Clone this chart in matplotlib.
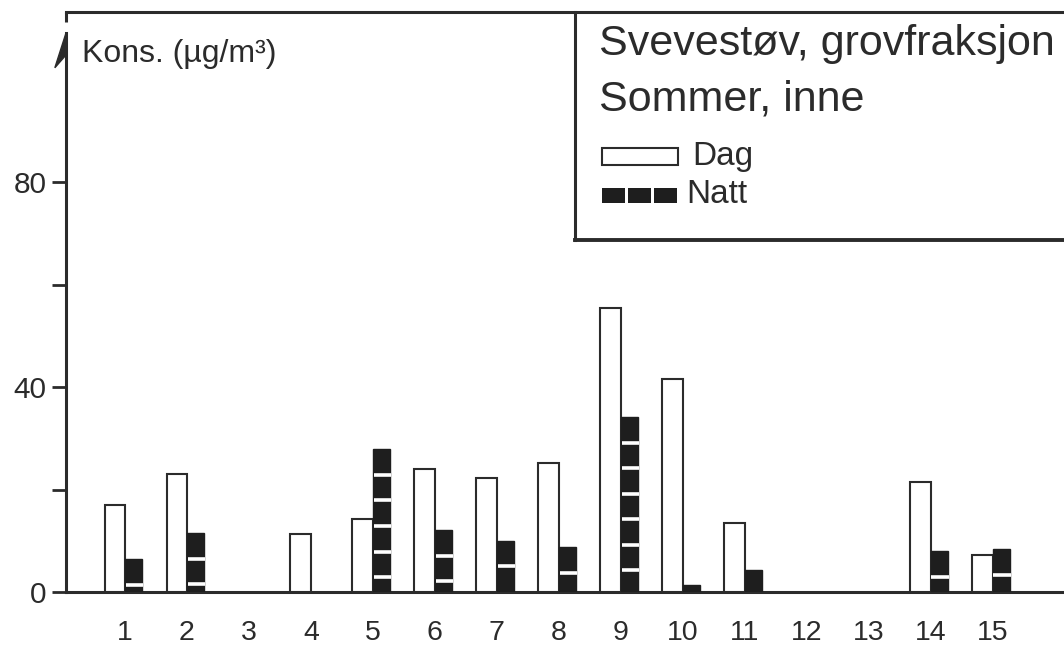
import matplotlib
matplotlib.use("Agg")
import matplotlib.pyplot as plt
from matplotlib.patches import Rectangle, Polygon
import numpy as np

plt.rcParams['font.family'] = ['Liberation Sans', 'DejaVu Sans']

# Målepunkter og konsentrasjoner (µg/m³)
steder = list(range(1, 16))
dag = [17, 23, np.nan, 11.3, 14.2, 24, 22.2, 25.2, 55.5, 41.6, 13.5, np.nan, np.nan, 21.5, 7.2]
natt = [6.4, 11.5, np.nan, np.nan, 27.9, 12.1, 10, 8.8, 34.2, 1.4, 4.3, np.nan, np.nan, 8.0, 8.4]
y_ticks = [0, 20, 40, 60, 80]
y_labels = ['0', '', '40', '', '80']

ink = '#2b2b2b'
W, H = 1064, 645

fig = plt.figure(figsize=(W / 100, H / 100), dpi=100)
fig.patch.set_facecolor('white')
ax = fig.add_axes([66 / W, 53 / H, 998 / W, 580 / H])

x = np.array(steder, dtype=float)
w_dag, w_natt = 0.33, 0.28
ax.bar(x - w_dag / 2, dag, width=w_dag, facecolor='white', edgecolor=ink, linewidth=1.5, zorder=3)
ax.bar(x + w_natt / 2, natt, width=w_natt, facecolor='#1e1e1e', edgecolor='#1e1e1e', linewidth=1.0, zorder=3)

# hvite skillestreker i nattstolpene, ca. hver 5. enhet fra toppen
step = 5.0
for xi, v in zip(x, natt):
    if np.isnan(v):
        continue
    lvl = v - step
    while lvl > 0.8:
        ax.plot([xi + 0.012, xi + w_natt + 0.012], [lvl, lvl], color='white', lw=2.6,
                solid_capstyle='butt', zorder=4)
        lvl -= step

x0 = 0.048
ax.set_xlim(x0, 16.15)
ax.set_ylim(0, 113.3)

ax.set_xticks(x)
ax.set_xticklabels([str(s) for s in steder], fontsize=20.5, color=ink)
ax.tick_params(axis='x', length=0, pad=20)
ax.set_yticks(y_ticks)
ax.set_yticklabels(y_labels, fontsize=21.5, color=ink)
ax.tick_params(axis='y', direction='out', length=10, width=2, color=ink, pad=4)

ax.spines['right'].set_visible(False)
for side in ['left', 'bottom', 'top']:
    ax.spines[side].set_color(ink)
    ax.spines[side].set_linewidth(2.2)
ax.spines['left'].set_bounds(0, 109.2)

# liten stump under toppstreken og pilspiss på y-aksen
ax.plot([x0, x0], [113.3, 111.3], color=ink, lw=2.2, clip_on=False, solid_capstyle='butt')
ax.add_patch(Polygon([[x0, 109.2], [x0 - 0.18, 102.4], [x0, 104.9]],
                     closed=True, facecolor=ink, edgecolor=ink, lw=1, clip_on=False, zorder=5))

fig.text(82 / W, 1 - 62 / H, 'Kons. (µg/m³)', fontsize=23, color=ink, va='baseline', ha='left')

# tegnforklaringsboks
fig.add_artist(plt.Line2D([575 / W, 575 / W], [1 - 12 / H, 1 - 240 / H], color=ink, lw=2.2))
fig.add_artist(plt.Line2D([575 / W, 1.0], [1 - 240 / H, 1 - 240 / H], color=ink, lw=2.8))
fig.text(599 / W, 1 - 55 / H, 'Svevestøv, grovfraksjon', fontsize=31, color=ink, va='baseline')
fig.text(599 / W, 1 - 110 / H, 'Sommer, inne', fontsize=31, color=ink, va='baseline')
fig.add_artist(Rectangle((602 / W, 1 - 165 / H), 76 / W, 17 / H, transform=fig.transFigure,
                         facecolor='white', edgecolor=ink, lw=1.5))
fig.text(692 / W, 1 - 165 / H, 'Dag', fontsize=24, color=ink, va='baseline')
for i in range(3):
    fig.add_artist(Rectangle(((602 + i * 26) / W, 1 - 203 / H), 23 / W, 15 / H, transform=fig.transFigure,
                             facecolor='#1e1e1e', edgecolor='none'))
fig.text(686 / W, 1 - 203 / H, 'Natt', fontsize=24, color=ink, va='baseline')

fig.savefig('out.png', dpi=100, facecolor='white')
